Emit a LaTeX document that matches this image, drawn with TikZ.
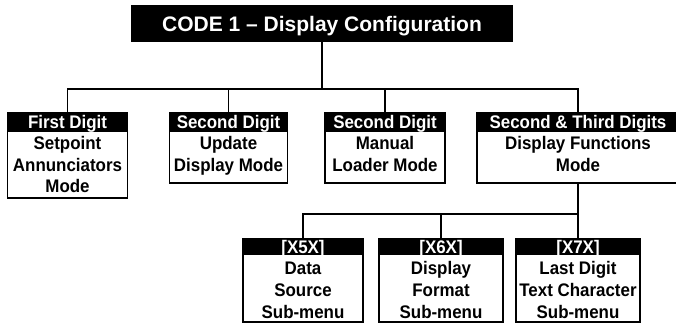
\documentclass[tikz,border=0pt]{standalone}
\usepackage{fontspec}
\setmainfont{Liberation Sans}
\newfontfamily\bodyfam{Liberation Sans}[FakeStretch=0.93]
\newcommand\mybody{\bodyfam\fontsize{18.2}{20}\selectfont\bfseries}
\newcommand\mytitle{\fontsize{21}{24}\selectfont\bfseries}
\tikzset{
  lw/.style={line width=1.4pt},
  boxnode/.style={draw=black, lw, fill=white, inner sep=0pt},
  hdr/.style={draw=black, lw, fill=black, text=white, inner sep=0pt, anchor=north,
              font=\mybody, text height=13pt, text depth=0pt},
  ln/.style={anchor=base, inner sep=0pt, font=\mybody},
  wire/.style={draw=black, lw},
}
\begin{document}
\begin{tikzpicture}[x=1pt,y=-1pt]
\useasboundingbox (0,0) rectangle (676,325);
\clip (0,0) rectangle (676,325);

% title
\node[boxnode, fill=black, text=white, minimum width=380pt, minimum height=35pt,
      font=\mytitle, text height=15pt, text depth=0pt] (title) at (322,23.5)
      {CODE 1 -- Display Configuration};
\coordinate (j) at (322,89);

% top row boxes
\node[boxnode, minimum width=120pt, minimum height=85pt] (b1) at (67.5,155.5) {};
\node[hdr, minimum width=120pt, minimum height=18pt] (h1) at (b1.north) {First Digit};
\node[ln] (b1l1) at (67.5,149.5) {Setpoint};
\node[ln] (b1l2) at (67.5,171) {Annunciators};
\node[ln] (b1l3) at (67.5,192.5) {Mode};

\node[boxnode, minimum width=118pt, minimum height=70pt] (b2) at (228.5,148) {};
\node[hdr, minimum width=118pt, minimum height=18pt] (h2) at (b2.north) {Second Digit};
\node[ln] (b2l1) at (228.5,149.5) {Update};
\node[ln] (b2l2) at (228.5,171.5) {Display Mode};

\node[boxnode, minimum width=120pt, minimum height=70pt] (b3) at (385,148) {};
\node[hdr, minimum width=120pt, minimum height=18pt] (h3) at (b3.north) {Second Digit};
\node[ln] (b3l1) at (385,149.5) {Manual};
\node[ln] (b3l2) at (385,171.5) {Loader Mode};

\node[boxnode, minimum width=202pt, minimum height=70pt] (b4) at (578,148) {};
\node[hdr, minimum width=202pt, minimum height=18pt] (h4) at (b4.north) {Second \& Third Digits};
\node[ln] (b4l1) at (578,149.5) {Display Functions};
\node[ln] (b4l2) at (578,171.5) {Mode};

% bottom row boxes
\coordinate (k) at (578,214);
\node[boxnode, minimum width=120pt, minimum height=83pt] (c1) at (303,280.5) {};
\node[hdr, minimum width=120pt, minimum height=15pt] (g1) at (c1.north) {[X5X]};
\node[ln] (c1l1) at (303,274) {Data};
\node[ln] (c1l2) at (303,296) {Source};
\node[ln] (c1l3) at (303,318) {Sub-menu};

\node[boxnode, minimum width=124pt, minimum height=83pt] (c2) at (441,280.5) {};
\node[hdr, minimum width=124pt, minimum height=15pt] (g2) at (c2.north) {[X6X]};
\node[ln] (c2l1) at (441,274) {Display};
\node[ln] (c2l2) at (441,296) {Format};
\node[ln] (c2l3) at (441,318) {Sub-menu};

\node[boxnode, minimum width=124pt, minimum height=83pt] (c3) at (578,280.5) {};
\node[hdr, minimum width=124pt, minimum height=15pt] (g3) at (c3.north) {[X7X]};
\node[ln] (c3l1) at (578,274) {Last Digit};
\node[ln] (c3l2) at (578,296) {Text Character};
\node[ln] (c3l3) at (578,318) {Sub-menu};

% connectors
\draw[wire] (title.south) -- (j);
\draw[wire] (h1.north) |- (j);
\draw[wire] (h4.north) |- (j);
\draw[wire] (h2.north) -- (h2.north |- j);
\draw[wire] (h3.north) -- (h3.north |- j);
\draw[wire] (b4.south) -- (g3.north);
\draw[wire] (g1.north) |- (k);
\draw[wire] (g2.north) -- (g2.north |- k);
\end{tikzpicture}
\end{document}
